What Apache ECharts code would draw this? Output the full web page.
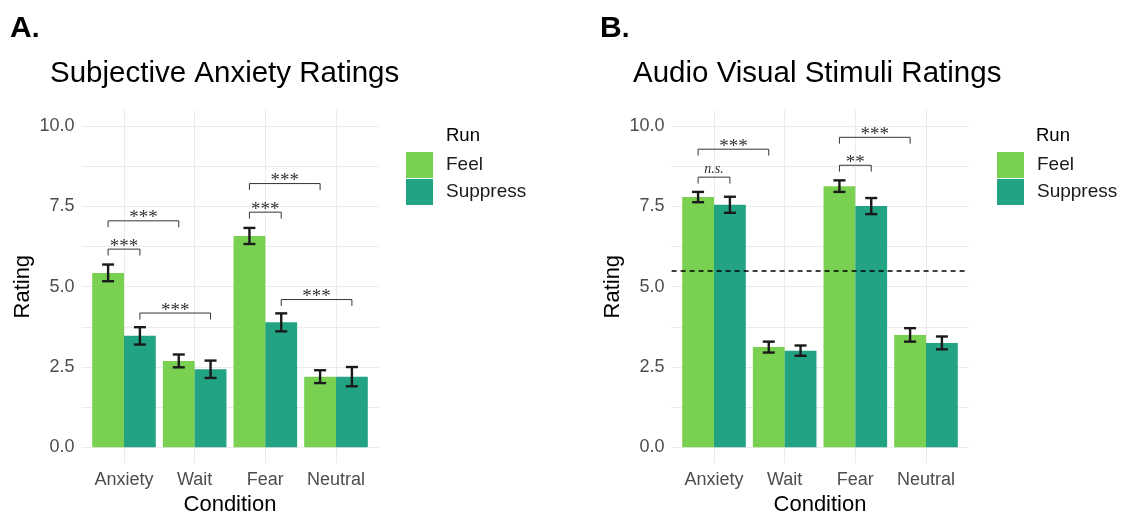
<!DOCTYPE html>
<html>
<head>
<meta charset="utf-8">
<script src="https://cdn.jsdelivr.net/npm/echarts@6/dist/echarts.min.js"></script>
<style>
  html, body { margin: 0; padding: 0; background: #fff; }
  #chart { width: 1125px; height: 514px; }
</style>
</head>
<body>
<div id="chart"></div>
<script>
// categories and runs
var conditions = ["Anxiety", "Wait", "Fear", "Neutral"];
var runs = ["Feel", "Suppress"];

// A. Subjective anxiety ratings (mean, se)
var anxietyFeel = [5.43, 2.69, 6.58, 2.2];
var anxietyFeelSE = [0.26, 0.2, 0.25, 0.2];
var anxietySuppress = [3.47, 2.43, 3.89, 2.2];
var anxietySuppressSE = [0.27, 0.27, 0.28, 0.3];

// B. Audio visual stimuli ratings (mean, se)
var stimuliFeel = [7.79, 3.12, 8.13, 3.5];
var stimuliFeelSE = [0.16, 0.17, 0.18, 0.21];
var stimuliSuppress = [7.55, 3.01, 7.51, 3.25];
var stimuliSuppressSE = [0.25, 0.16, 0.25, 0.2];

// significance brackets: from (condition, run) to (condition, run), height, label
var sigA = [
  ["Anxiety", "Feel", "Anxiety", "Suppress", 6.17, "***"],
  ["Anxiety", "Feel", "Wait", "Feel", 7.05, "***"],
  ["Anxiety", "Suppress", "Wait", "Suppress", 4.18, "***"],
  ["Fear", "Feel", "Fear", "Suppress", 7.32, "***"],
  ["Fear", "Feel", "Neutral", "Feel", 8.21, "***"],
  ["Fear", "Suppress", "Neutral", "Suppress", 4.6, "***"]
];
var sigB = [
  ["Anxiety", "Feel", "Anxiety", "Suppress", 8.41, "n.s."],
  ["Anxiety", "Feel", "Wait", "Feel", 9.28, "***"],
  ["Fear", "Feel", "Fear", "Suppress", 8.78, "**"],
  ["Fear", "Feel", "Neutral", "Feel", 9.65, "***"]
];
var neutralLine = 5.5;

var yLabels = [0, 2.5, 5, 7.5, 10];
var yGrid = [0, 1.25, 2.5, 3.75, 5, 6.25, 7.5, 8.75, 10];

var colors = { Feel: "#7AD151", Suppress: "#22A384" };
var sans = "Liberation Sans, Arial, sans-serif";
var serif = "Liberation Serif, Times New Roman, serif";

// dodge position of a bar (width 0.9 split in two)
function barX(cond, run) {
  return conditions.indexOf(cond) + 1 + (run === "Feel" ? -0.225 : 0.225);
}

function barItem(offset, color) {
  return function (params, api) {
    var x = api.value(0) + offset;
    var v = api.value(1), se = api.value(2);
    var p0 = api.coord([x - 0.225, v]);
    var p1 = api.coord([x + 0.225, 0]);
    var t = api.coord([x, v + se]);
    var b = api.coord([x, v - se]);
    var cl = api.coord([x - 0.085, v])[0];
    var cr = api.coord([x + 0.085, v])[0];
    var err = { stroke: "#1a1a1a", lineWidth: 2.4 };
    return {
      type: "group",
      children: [
        { type: "rect", shape: { x: p0[0], y: p0[1], width: p1[0] - p0[0], height: p1[1] - p0[1] }, style: { fill: color } },
        { type: "line", z2: 5, shape: { x1: t[0], y1: t[1], x2: b[0], y2: b[1] }, style: err },
        { type: "line", z2: 5, shape: { x1: cl, y1: t[1], x2: cr, y2: t[1] }, style: err },
        { type: "line", z2: 5, shape: { x1: cl, y1: b[1], x2: cr, y2: b[1] }, style: err }
      ]
    };
  };
}

function bracketItem(list) {
  return function (params, api) {
    var s = list[params.dataIndex];
    var y = api.value(2);
    var a = api.coord([api.value(0), y]);
    var b = api.coord([api.value(1), y]);
    var a0 = api.coord([api.value(0), y - 0.2]);
    var b0 = api.coord([api.value(1), y - 0.2]);
    var italic = s[5] === "n.s.";
    return {
      type: "group",
      children: [
        { type: "polyline", shape: { points: [a0, a, b, b0] }, style: { stroke: "#333", lineWidth: 1, fill: null } },
        {
          type: "text", x: (a[0] + b[0]) / 2, y: italic ? a[1] - 1 : a[1] + 7,
          style: {
            text: s[5], fill: "#333", fontFamily: serif, fontSize: italic ? 14 : 19,
            fontStyle: italic ? "italic" : "normal", align: "center", verticalAlign: "bottom"
          }
        }
      ]
    };
  };
}

function barData(vals, se) {
  return conditions.map(function (c, i) { return [i + 1, vals[i], se[i]]; });
}
function sigData(list) {
  return list.map(function (s) { return [barX(s[0], s[1]), barX(s[2], s[3]), s[4]]; });
}

function makeXAxis(idx) {
  return {
    type: "value", gridIndex: idx, min: 0.4, max: 4.6,
    name: "Condition", nameLocation: "middle", nameGap: 30,
    nameTextStyle: { fontFamily: sans, fontSize: 22, color: "#000" },
    axisLine: { show: false },
    axisTick: { show: false, customValues: [1, 2, 3, 4] },
    axisLabel: {
      customValues: [1, 2, 3, 4], margin: 8,
      fontFamily: sans, fontSize: 18, color: "#4d4d4d",
      formatter: function (v) { return conditions[Math.round(v) - 1]; }
    },
    splitLine: { show: true, lineStyle: { color: "#ebebeb", width: 1 } }
  };
}
function makeYAxis(idx) {
  return {
    type: "value", gridIndex: idx, min: -0.5, max: 10.5,
    name: "Rating", nameLocation: "middle", nameGap: 48, nameRotate: 90,
    nameTextStyle: { fontFamily: sans, fontSize: 22, color: "#000" },
    axisLine: { show: false },
    axisTick: { show: false, customValues: yGrid },
    axisLabel: {
      customValues: yLabels, margin: 7,
      fontFamily: sans, fontSize: 18, color: "#4d4d4d",
      formatter: function (v) { return v.toFixed(1); }
    },
    splitLine: { show: true, lineStyle: { color: "#ebebeb", width: 1 } }
  };
}

function makeLegend(left) {
  return {
    left: left, top: 152, orient: "vertical", padding: 0,
    itemWidth: 27, itemHeight: 26, itemGap: 1, icon: "rect",
    data: runs, selectedMode: false,
    textStyle: { fontFamily: sans, fontSize: 19, color: "#1a1a1a", padding: [0, 0, 0, 8] }
  };
}

function titleText(text, left, top, size) {
  return { text: text, left: left, top: top, padding: 0,
    textStyle: { fontFamily: sans, fontSize: size, fontWeight: "normal", color: "#000" } };
}

var chart = echarts.init(document.getElementById("chart"), null, { renderer: "canvas" });

chart.setOption({
  backgroundColor: "#fff",
  animation: false,
  title: [
    { text: "{b|A}.", left: 10, top: 14, padding: 0,
      textStyle: { fontFamily: sans, fontSize: 28, color: "#000", rich: { b: { fontFamily: sans, fontSize: 30, fontWeight: "bold", color: "#000" } } } },
    { text: "{b|B}.", left: 600, top: 14, padding: 0,
      textStyle: { fontFamily: sans, fontSize: 28, color: "#000", rich: { b: { fontFamily: sans, fontSize: 30, fontWeight: "bold", color: "#000" } } } },
    titleText("Subjective Anxiety Ratings", 50, 59, 29.5),
    titleText("Audio Visual Stimuli Ratings", 633, 59, 29.5),
    titleText("Run", 446, 126, 18.5),
    titleText("Run", 1036, 126, 18.5)
  ],
  legend: [makeLegend(406), makeLegend(997)],
  grid: [
    { left: 81.6, top: 110, width: 296.8, height: 353.4, outerBoundsMode: "none" },
    { left: 671.6, top: 110, width: 296.8, height: 353.4, outerBoundsMode: "none" }
  ],
  xAxis: [makeXAxis(0), makeXAxis(1)],
  yAxis: [makeYAxis(0), makeYAxis(1)],
  series: [
    { name: "Feel", type: "custom", xAxisIndex: 0, yAxisIndex: 0, itemStyle: { color: colors.Feel },
      encode: { x: 0, y: 1 }, data: barData(anxietyFeel, anxietyFeelSE), renderItem: barItem(-0.225, colors.Feel) },
    { name: "Suppress", type: "custom", xAxisIndex: 0, yAxisIndex: 0, itemStyle: { color: colors.Suppress },
      encode: { x: 0, y: 1 }, data: barData(anxietySuppress, anxietySuppressSE), renderItem: barItem(0.225, colors.Suppress) },
    { name: "sigA", type: "custom", xAxisIndex: 0, yAxisIndex: 0, z: 5,
      encode: { x: [0, 1], y: 2 }, data: sigData(sigA), renderItem: bracketItem(sigA) },
    { name: "Feel", type: "custom", xAxisIndex: 1, yAxisIndex: 1, itemStyle: { color: colors.Feel },
      encode: { x: 0, y: 1 }, data: barData(stimuliFeel, stimuliFeelSE), renderItem: barItem(-0.225, colors.Feel) },
    { name: "Suppress", type: "custom", xAxisIndex: 1, yAxisIndex: 1, itemStyle: { color: colors.Suppress },
      encode: { x: 0, y: 1 }, data: barData(stimuliSuppress, stimuliSuppressSE), renderItem: barItem(0.225, colors.Suppress) },
    { name: "sigB", type: "custom", xAxisIndex: 1, yAxisIndex: 1, z: 5,
      encode: { x: [0, 1], y: 2 }, data: sigData(sigB), renderItem: bracketItem(sigB),
      markLine: {
        silent: true, symbol: "none", label: { show: false },
        lineStyle: { color: "#000", type: [5, 4], width: 1.5 },
        data: [{ yAxis: neutralLine }]
      } }
  ]
});
</script>
</body>
</html>
